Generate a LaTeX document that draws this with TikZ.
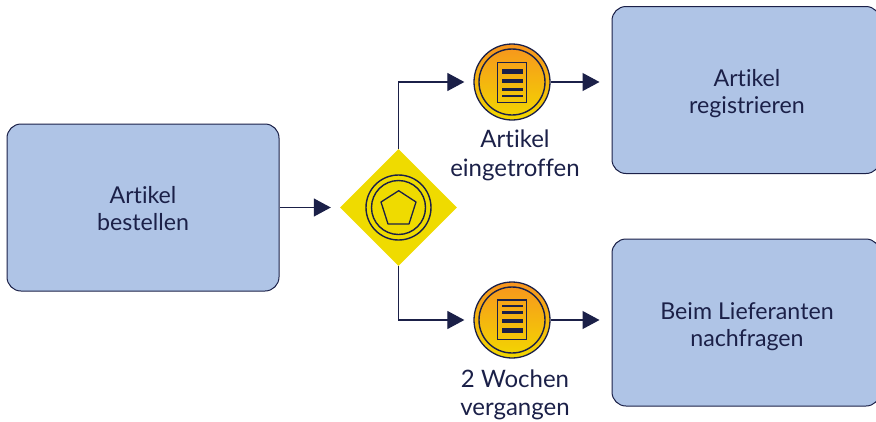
\documentclass[tikz,border=0pt]{standalone}
\usepackage{fontspec}
\setmainfont{Lato}[Ligatures=NoCommon]
\usetikzlibrary{shapes.geometric,arrows.meta,positioning}
\definecolor{navy}{HTML}{1B2048}
\definecolor{taskblue}{HTML}{AFC4E6}
\definecolor{gateyellow}{HTML}{EFDB00}
\definecolor{evorange}{HTML}{F7941E}
\definecolor{evyellow}{HTML}{F2D800}
\tikzset{
  x=1pt,y=-1pt,
  task/.style={draw=navy,line width=1pt,fill=taskblue,rounded corners=14pt,minimum width=#1,minimum height=167pt,inner sep=0pt},
  task/.default=272pt,
  tasktext/.style={align=center,text=navy,font=\fontsize{23.2}{27}\selectfont,inner sep=0pt,yshift=#1},
  gate/.style={diamond,aspect=1,fill=gateyellow,minimum width=117pt,minimum height=117pt,inner sep=0pt},
  event/.style={circle,draw=navy,line width=1.3pt,top color=evorange,bottom color=evyellow,shading angle=0,minimum size=76pt,inner sep=0pt},
  ring/.style={circle,draw=navy,line width=1.4pt,inner sep=0pt,minimum size=#1},
  caption/.style={align=center,text=navy,font=\fontsize{24}{28.5}\selectfont,inner sep=0pt},
  flow/.style={draw=navy,line width=1.2pt,-{Triangle[length=17pt,width=18pt]}},
  docpage/.style={draw=navy,line width=1.5pt},
  docbar/.style={fill=navy},
}
\begin{document}
\begin{tikzpicture}
\useasboundingbox (0,0) rectangle (876,421);
\node[task=272pt,label={[tasktext=-1pt]center:{Artikel\\bestellen}}] (order) at (143,207.5) {};
\node[task=268pt,label={[tasktext=-4pt,xshift=1pt]center:{Artikel\\registrieren}}] (register) at (746,90) {};
\node[task=268pt,label={[tasktext=-4pt,xshift=1pt]center:{Beim Lieferanten\\nachfragen}}] (ask) at (746,322.5) {};
\node[gate] (gw) at (398.5,207.5) {};
\node[ring=65pt] (gwouter) at (gw) {};
\node[ring=54pt] (gwinner) at (gw) {};
\draw[navy,line width=1.3pt,line join=round] (398.7,190.7) -- (416,202) -- (409,224) -- (388,224) -- (381,202) -- cycle;
\node[event] (ev1) at (512,82) {};
\node[ring=66pt] (ev1r) at (ev1) {};
\node[event] (ev2) at (512,320) {};
\node[ring=66pt] (ev2r) at (ev2) {};
% document icons
\draw[docpage] (497.7,62.7) rectangle (526.7,102.3);
\fill[docbar] (501.7,68.7) rectangle (522.7,74);
\fill[docbar] (501.7,79.3) rectangle (522.7,82.7);
\fill[docbar] (501.7,88) rectangle (522.7,90.7);
\fill[docbar] (501.7,95.3) rectangle (522.7,96.7);
\draw[docpage] (497.7,300) rectangle (526.7,339.3);
\fill[docbar] (501.7,305) rectangle (522.7,306.7);
\fill[docbar] (501.7,311.3) rectangle (522.7,314);
\fill[docbar] (501.7,319.3) rectangle (522.7,322.7);
\fill[docbar] (501.7,327.7) rectangle (522.7,333.3);
\node[caption] (cap1) at (515,155.5) {Artikel\\eingetroffen};
\node[caption] (cap2) at (515,395) {2 Wochen\\vergangen};
\draw[flow,shorten >=9pt] (order.east) -- (gw.west);
\draw[flow,shorten >=9pt] (gw.north) |- (ev1.west);
\draw[flow,shorten >=9pt] (gw.south) |- (ev2.west);
\draw[flow,shorten >=12pt] (ev1.east) -- (ev1.east -| register.west);
\draw[flow,shorten >=12pt] (ev2.east) -- (ev2.east -| ask.west);
\end{tikzpicture}
\end{document}
